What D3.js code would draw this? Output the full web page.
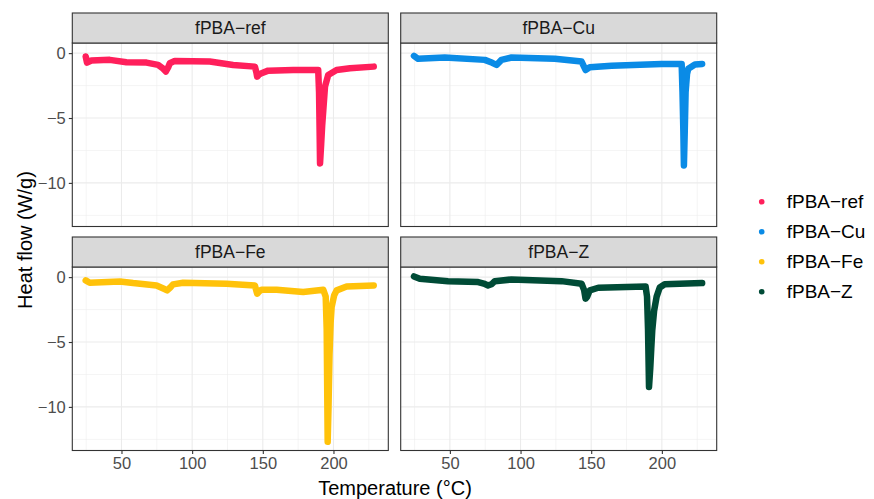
<!DOCTYPE html>
<html>
<head>
<meta charset="utf-8">
<script src="https://cdn.jsdelivr.net/npm/d3@7"></script>
<style>
    body { margin: 0; background: #fff; }
    svg { display: block; font-family: "Liberation Sans", Arial, sans-serif; }
</style>
</head>
<body>
<svg id="drawing_region"></svg>
<script>
// samples and colours
const samples = ['fPBA\u2212ref', 'fPBA\u2212Cu', 'fPBA\u2212Fe', 'fPBA\u2212Z'];
const colors = ['#FF1F5B', '#0A8BE6', '#FFC20A', '#004B36'];

// DSC curves: temperature (°C) and heat flow (W/g)
const tempRef = [24.7, 25.6, 28.7, 41.7, 53.5, 67.7, 75.9, 79.5, 81.4, 83.0, 84.2, 87.7, 112.5, 129, 144.4, 145.5, 146, 147.5, 149.1, 153.8, 171.5, 189.2, 189.8, 190.2, 190.5, 191.3, 192.0, 192.8, 194, 196.3, 202.2, 211.7, 228.5];
const flowRef = [-0.26, -0.73, -0.57, -0.52, -0.70, -0.73, -0.91, -1.2, -1.42, -1.1, -0.78, -0.60, -0.65, -0.91, -1.04, -1.5, -1.81, -1.65, -1.55, -1.35, -1.30, -1.30, -3.0, -6.0, -8.5, -7.0, -5.6, -4.4, -2.59, -1.68, -1.3, -1.16, -1.04];

const tempCu = [24.6, 27.5, 46.4, 74.7, 80, 83, 86.5, 93.6, 124.3, 143.2, 146.0, 149, 164.4, 199.8, 214, 214.6, 215.2, 215.6, 216.2, 216.8, 217.8, 218.7, 223.4, 228.5];
const flowCu = [-0.21, -0.44, -0.34, -0.52, -0.75, -0.91, -0.52, -0.34, -0.44, -0.65, -1.30, -1.09, -0.98, -0.83, -0.83, -3.0, -6.0, -8.66, -6.0, -3.0, -1.6, -1.2, -0.87, -0.83];

const tempFe = [24.7, 27.5, 48.8, 58.2, 74.8, 80, 82.3, 84.5, 86.5, 93.6, 124.3, 144.4, 145.3, 146, 147.5, 149.1, 159.8, 178.6, 192.8, 194.5, 195.2, 195.6, 195.9, 196.5, 197.2, 198.0, 198.7, 200.5, 202.3, 209.3, 228.5];
const flowFe = [-0.25, -0.43, -0.33, -0.46, -0.64, -0.9, -1.02, -0.80, -0.56, -0.43, -0.51, -0.64, -1.0, -1.28, -1.1, -0.97, -0.97, -1.15, -0.97, -1.5, -4.0, -9.0, -12.69, -10.0, -6.0, -3.5, -2.31, -1.4, -1.02, -0.72, -0.64];

const tempZ = [24.6, 28.7, 48.7, 70, 74, 77, 79.5, 81.8, 93.6, 129, 143.2, 145, 146, 147.2, 149, 155, 188.5, 189.5, 190.2, 190.9, 191.8, 192.5, 193.2, 194.5, 196.3, 198.5, 202, 228.5];
const flowZ = [0.05, -0.13, -0.31, -0.38, -0.5, -0.64, -0.55, -0.31, -0.18, -0.31, -0.51, -1.0, -1.66, -1.5, -1.02, -0.82, -0.72, -1.5, -4.0, -8.46, -7.0, -5.5, -4.1, -2.6, -1.5, -0.8, -0.55, -0.46];

// axis ticks
const xTicks = [50, 100, 150, 200];
const xMinor = [25, 75, 125, 175, 225];
const yTicks = [0, -5, -10];
const yMinor = [-2.5, -7.5, -12.5];

const temps = [tempRef, tempCu, tempFe, tempZ];
const flows = [flowRef, flowCu, flowFe, flowZ];

const config = {
    width: 874,
    height: 499,
    panelLeft: [72.3, 400.7],
    panelTop: [43, 267],
    panelWidth: 316,
    panelHeight: 183.5,
    stripHeight: 30
};

const svg = d3.select('#drawing_region')
    .attr('width', config.width)
    .attr('height', config.height);

const xscale = d3.scaleLinear()
    .domain([15.2, 238.8])
    .range([0, config.panelWidth]);

const yscale = d3.scaleLinear()
    .domain([-13.36, 0.78])
    .range([config.panelHeight, 0]);

const line = d3.line()
    .x(d => xscale(d[0]))
    .y(d => yscale(d[1]));

samples.forEach((name, i) => {
    const col = i % 2, row = Math.floor(i / 2);
    const g = svg.append('g')
        .attr('transform', `translate(${config.panelLeft[col]}, ${config.panelTop[row]})`);

    g.append('rect')
        .attr('width', config.panelWidth)
        .attr('height', config.panelHeight)
        .attr('fill', '#fff');

    // grid
    g.selectAll('.xminor').data(xMinor).enter().append('line')
        .attr('x1', d => xscale(d)).attr('x2', d => xscale(d))
        .attr('y1', 0).attr('y2', config.panelHeight)
        .attr('stroke', '#EBEBEB').attr('stroke-width', 0.55);
    g.selectAll('.yminor').data(yMinor).enter().append('line')
        .attr('y1', d => yscale(d)).attr('y2', d => yscale(d))
        .attr('x1', 0).attr('x2', config.panelWidth)
        .attr('stroke', '#EBEBEB').attr('stroke-width', 0.55);
    g.selectAll('.xmajor').data(xTicks).enter().append('line')
        .attr('x1', d => xscale(d)).attr('x2', d => xscale(d))
        .attr('y1', 0).attr('y2', config.panelHeight)
        .attr('stroke', '#EBEBEB').attr('stroke-width', 1.1);
    g.selectAll('.ymajor').data(yTicks).enter().append('line')
        .attr('y1', d => yscale(d)).attr('y2', d => yscale(d))
        .attr('x1', 0).attr('x2', config.panelWidth)
        .attr('stroke', '#EBEBEB').attr('stroke-width', 1.1);

    // curve
    const pts = temps[i].map((t, k) => [t, flows[i][k]]);
    g.append('path')
        .datum(pts)
        .attr('d', line)
        .attr('fill', 'none')
        .attr('stroke', colors[i])
        .attr('stroke-width', 6.5)
        .attr('stroke-linecap', 'round')
        .attr('stroke-linejoin', 'round');

    g.append('rect')
        .attr('width', config.panelWidth)
        .attr('height', config.panelHeight)
        .attr('fill', 'none')
        .attr('stroke', '#333333')
        .attr('stroke-width', 1.1);

    // strip
    g.append('rect')
        .attr('y', -config.stripHeight)
        .attr('width', config.panelWidth)
        .attr('height', config.stripHeight)
        .attr('fill', '#D9D9D9')
        .attr('stroke', '#333333')
        .attr('stroke-width', 1.1);
    g.append('text')
        .attr('x', config.panelWidth / 2)
        .attr('y', -config.stripHeight / 2)
        .attr('text-anchor', 'middle')
        .attr('dominant-baseline', 'central')
        .attr('font-size', 17.5)
        .attr('fill', '#1A1A1A')
        .text(name);

    // axes
    if (col === 0) {
        const ya = g.append('g')
            .call(d3.axisLeft(yscale).tickValues(yTicks).tickSize(3.5).tickPadding(3));
        ya.select('.domain').remove();
        ya.selectAll('line').attr('stroke', '#333333').attr('stroke-width', 1.1);
        ya.selectAll('text').attr('font-size', 16.5).attr('fill', '#4D4D4D')
            .style('font-family', '"Liberation Sans", Arial, sans-serif');
    }
    if (row === 1) {
        const xa = g.append('g')
            .attr('transform', `translate(0, ${config.panelHeight})`)
            .call(d3.axisBottom(xscale).tickValues(xTicks).tickSize(3.5).tickPadding(3));
        xa.select('.domain').remove();
        xa.selectAll('line').attr('stroke', '#333333').attr('stroke-width', 1.1);
        xa.selectAll('text').attr('font-size', 16.5).attr('fill', '#4D4D4D')
            .style('font-family', '"Liberation Sans", Arial, sans-serif');
    }
});

// axis titles
svg.append('text')
    .attr('x', 395)
    .attr('y', 495)
    .attr('text-anchor', 'middle')
    .attr('font-size', 20)
    .text('Temperature (\u00B0C)');

svg.append('text')
    .attr('transform', 'translate(31.5, 240) rotate(-90)')
    .attr('text-anchor', 'middle')
    .attr('font-size', 20)
    .text('Heat flow (W/g)');

// legend
const legend = svg.append('g').attr('transform', 'translate(761.7, 201.7)');
legend.selectAll('circle').data(samples).enter().append('circle')
    .attr('cx', 0)
    .attr('cy', (d, i) => i * 30)
    .attr('r', 2.8)
    .attr('fill', (d, i) => colors[i]);
legend.selectAll('text').data(samples).enter().append('text')
    .attr('x', 25)
    .attr('y', (d, i) => i * 30)
    .attr('dominant-baseline', 'central')
    .attr('font-size', 19)
    .text(d => d);
</script>
</body>
</html>
